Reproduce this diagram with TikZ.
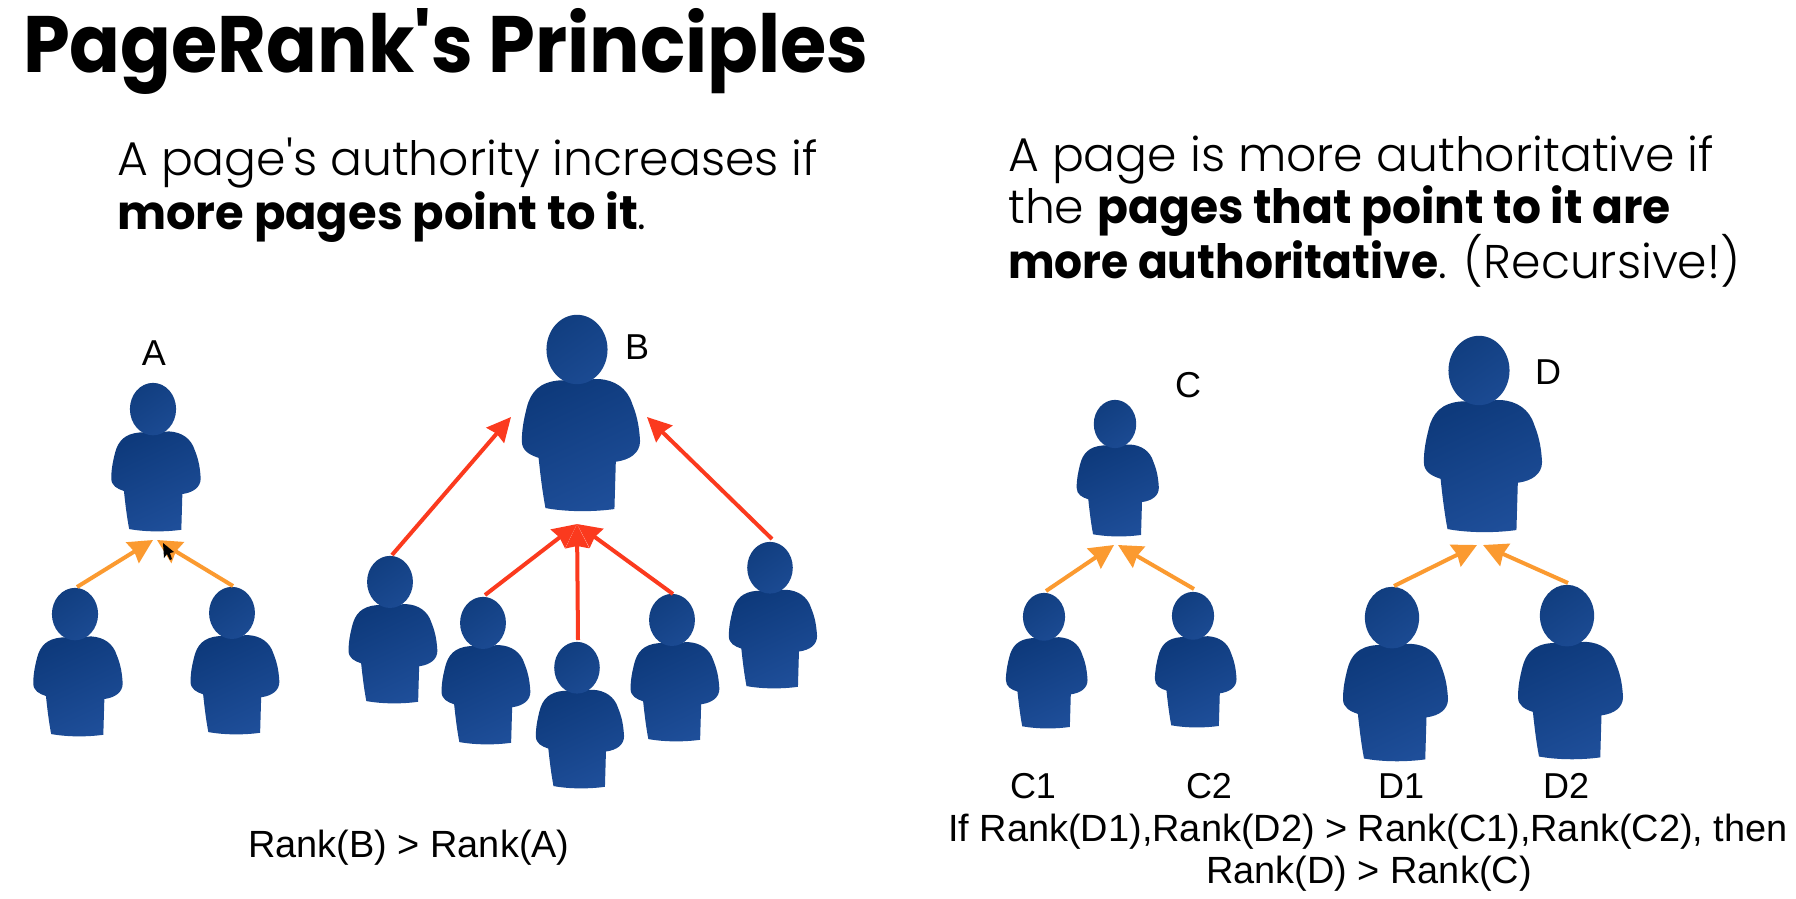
\documentclass[tikz,border=0pt]{standalone}
\usepackage{fontspec}
\setmainfont{Liberation Sans}
\newfontfamily\gothic[BoldFont={Poppins Bold},BoldFeatures={FakeStretch=0.98}]{Poppins Light}
\newfontfamily\gothicmid[FakeStretch=0.963]{Poppins Bold}
\newfontfamily\gothicnarrow[FakeStretch=0.93]{Poppins Bold}
\newfontfamily\gothictitle[FakeStretch=0.937]{Poppins Bold}
\usetikzlibrary{arrows.meta,calc}
\definecolor{pdark}{HTML}{0E3A7C}
\definecolor{plight}{HTML}{1E4E99}
\definecolor{hdark}{HTML}{113E80}
\definecolor{hlight}{HTML}{1B4A92}
\definecolor{arroworange}{HTML}{FB9A30}
\definecolor{arrowred}{HTML}{FB3A1E}
\tikzset{
  personfill/.style={top color=pdark,bottom color=plight,shading angle=25},
  headfill/.style={top color=hdark,bottom color=hlight,shading angle=35},
  orangearrow/.style={draw=arroworange,line width=4pt,-{Stealth[length=24pt,width=24pt,inset=2pt,fill=arroworange]}},
  redarrow/.style={draw=arrowred,line width=4pt,-{Stealth[length=24pt,width=23pt,inset=2pt,fill=arrowred]}},
  title/.style={anchor=base west,inner sep=0pt,font=\gothictitle\fontsize{80}{80}\selectfont},
  body/.style={anchor=base west,inner sep=0pt,font=\gothic\fontsize{47.3}{52}\selectfont},
  lab/.style={anchor=base,inner sep=0pt,font=\fontsize{36}{40}\selectfont},
  rank/.style={anchor=base,inner sep=0pt,font=\fontsize{37.9}{42}\selectfont}
}
% head centre x, top y, height
\newcommand{\person}[4]{%
\begin{scope}[shift={(#2,#3)},scale=#4]
\coordinate (#1) at (0,0);
\path[personfill] (-.09,.332)
 .. controls (-.19,.34) and (-.235,.39) .. (-.255,.47)
 .. controls (-.27,.53) and (-.28,.58) .. (-.28,.64)
 .. controls (-.28,.69) and (-.24,.71) .. (-.195,.725)
 .. controls (-.185,.82) and (-.175,.90) .. (-.16,.98)
 .. controls (-.05,1.0) and (.08,1.0) .. (.19,.985)
 -- (.197,.745)
 .. controls (.27,.735) and (.32,.70) .. (.32,.64)
 .. controls (.315,.55) and (.30,.50) .. (.28,.45)
 .. controls (.255,.37) and (.19,.33) .. (.11,.325) -- cycle;
\path[headfill] (0,.175) ellipse [x radius=.155,y radius=.176];
\end{scope}}
\begin{document}
\begin{tikzpicture}[x=1pt,y=-1pt]
\useasboundingbox (0,0) rectangle (1796,898);
\fill[white] (0,0) rectangle (1796,898);
\node[title] (ttl) at (23,72) {PageRank's Principles};
\node[body] (l1) at (117,175) {A page's authority increases if};
\node[body] (l2) at (117,229) {\bfseries more pages point to it\mdseries.};
\node[body] (r1) at (1008,171) {A page is more authoritative if};
\node[body] (r2) at (1008,223) {the {\gothicmid pages that point to it are}};
\node[body] (r3) at (1008,278) {{\gothicnarrow more authoritative}. (Recursive!)};

\person{a}{153}{383}{149}
\person{a1}{75}{588}{149}
\person{a2}{232}{587}{148}
\person{b}{577}{315}{197}
\person{b1}{390}{556}{148}
\person{b2}{483}{597}{148}
\person{b3}{577}{642}{147}
\person{b4}{672}{594}{148}
\person{b5}{770}{542}{147}
\person{c}{1115}{400}{137}
\person{c1}{1044}{593}{136}
\person{c2}{1193}{592}{136}
\person{d}{1479}{336}{197}
\person{d1}{1392}{587}{175}
\person{d2}{1567}{585}{175}

\coordinate (atipl) at (153,540);
\coordinate (atipr) at (157,540);
\coordinate (btipl) at (511,417);
\coordinate (btipr) at (647,417);
\coordinate (btipm) at (577,524);
\coordinate (ctipl) at (1114,545);
\coordinate (ctipr) at (1118,545);
\coordinate (dtipl) at (1477,545);
\coordinate (dtipr) at (1483,545);

\draw[orangearrow] ($(a1)+(2,-1)$) -- (atipl);
\draw[orangearrow] ($(a2)+(1,-1)$) -- (atipr);
\draw[redarrow] ($(b1)+(2,-1)$) -- (btipl);
\draw[redarrow] ($(b5)+(2,-3)$) -- (btipr);
\draw[redarrow] ($(b2)+(2,-2)$) -- (btipm);
\draw[redarrow] ($(b3)+(1,-2)$) -- (btipm);
\draw[redarrow] ($(b4)+(1,0)$) -- (btipm);
\draw[orangearrow] ($(c1)+(2,-2)$) -- (ctipl);
\draw[orangearrow] ($(c2)+(1,-3)$) -- (ctipr);
\draw[orangearrow] ($(d1)+(2,-1)$) -- (dtipl);
\draw[orangearrow] ($(d2)+(1,-2)$) -- (dtipr);

% mouse pointer
\fill[black] (163,543) -- (164,558) -- (167,554) -- (170,560) -- (172,559) -- (170,553) -- (174,552) -- cycle;

\node[lab] (la) at (154,365) {A};
\node[lab] (lb) at (637,359) {B};
\node[lab] (lc) at (1188,397) {C};
\node[lab] (ld) at (1548,384) {D};
\node[lab] (lc1) at (1033,798) {C1};
\node[lab] (lc2) at (1209,798) {C2};
\node[lab] (ld1) at (1401,798) {D1};
\node[lab] (ld2) at (1566,798) {D2};
\node[rank] (t1) at (1368,841) {If Rank(D1),Rank(D2) > Rank(C1),Rank(C2), then};
\node[rank] (t2) at (1369,883) {Rank(D) > Rank(C)};
\node[rank] (t3) at (409,857) {Rank(B) > Rank(A)};
\end{tikzpicture}
\end{document}
